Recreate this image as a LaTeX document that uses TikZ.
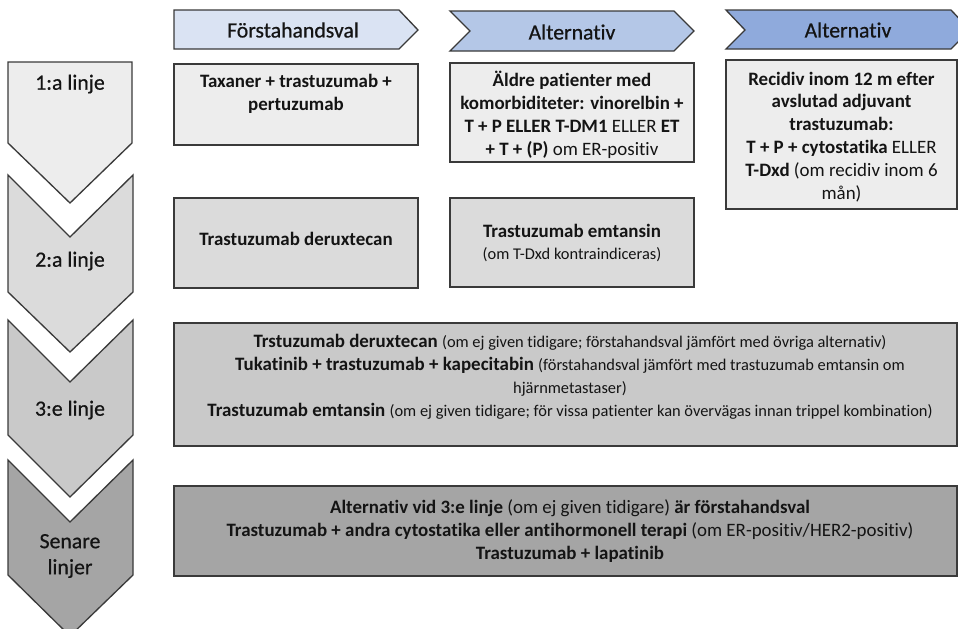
\documentclass[tikz,border=0pt]{standalone}
\usepackage{fontspec}
\setmainfont{Carlito}[RawFeature={-liga}]
\definecolor{bordercol}{HTML}{3A3A3A}
\definecolor{textcol}{HTML}{141414}
\definecolor{hdA}{HTML}{DAE3F3}
\definecolor{hdB}{HTML}{B4C7E7}
\definecolor{hdC}{HTML}{8FAADC}
\definecolor{gA}{HTML}{EDEDED}
\definecolor{gB}{HTML}{DBDBDB}
\definecolor{gC}{HTML}{C9C9C9}
\definecolor{gD}{HTML}{A5A5A5}
\newcommand\rgt[1]{{\mdseries #1}}
\newcommand\smt[1]{{\fontsize{12.3}{17.2}\selectfont\mdseries #1}}
\tikzset{
  bd/.style={draw=bordercol, line width=1pt, line join=miter},
  txt/.style={align=center, text=textcol, inner sep=0pt,
    font=\fontsize{14.2}{17.2}\selectfont\bfseries},
  hdr/.style={text=textcol, inner sep=0pt, font=\fontsize{16.3}{19.5}\selectfont\addfontfeature{FakeBold=0.6}},
  lbl/.style={align=center, text=textcol, inner sep=0pt, font=\fontsize{16.3}{19.5}\selectfont\addfontfeature{FakeBold=0.6}}
}
\begin{document}
\begin{tikzpicture}[x=0.75pt,y=-0.75pt]
\useasboundingbox (0,0) rectangle (958,629);
\clip (0,0) rectangle (958,629);
% headers
\draw[bd, fill=hdA] (174,10) -- (399,10) -- (418,30) -- (399,49) -- (174,49) -- cycle;
\node[hdr] (h1) at (293,30) {Förstahandsval};
\draw[bd, fill=hdB] (450,11) -- (674,11) -- (694,31) -- (674,51) -- (450,51) -- (470,31) -- cycle;
\node[hdr] (h2) at (572,32) {Alternativ};
\draw[bd, fill=hdC] (726,10) -- (951,10) -- (970,30) -- (951,49) -- (726,49) -- (745,30) -- cycle;
\node[hdr] (h3) at (848,30) {Alternativ};
% chevrons
\draw[bd, fill=gA] (8,62) -- (132,62) -- (132,143) -- (70,203) -- (8,143) -- cycle;
\node[lbl] (l1) at (70,84) {1:a linje};
\draw[bd, fill=gB] (8,175) -- (70,237) -- (133,175) -- (133,292) -- (70,352) -- (8,292) -- cycle;
\node[lbl] (l2) at (70,261) {2:a linje};
\draw[bd, fill=gC] (8,320) -- (70,382) -- (133,320) -- (133,435) -- (70,497) -- (8,435) -- cycle;
\node[lbl] (l3) at (70,410) {3:e linje};
\draw[bd, fill=gD] (8,460) -- (70,522) -- (133,460) -- (133,575) -- (70,636) -- (8,575) -- cycle;
\node[lbl] (l4) at (70,556) {Senare\\linjer};
% boxes
\draw[bd, fill=gA] (174,64) rectangle (418,145);
\node[txt] (bA) at (296,93.5) {Taxaner + trastuzumab +\\pertuzumab};
\draw[bd, fill=gA] (450,63) rectangle (694,162);
\node[txt] (bB) at (572,115) {Äldre patienter med\\komorbiditeter: vinorelbin +\\T + P ELLER T-DM1 \rgt{ELLER} ET\\+ T + (P) \rgt{om ER-positiv}};
\draw[bd, fill=gA] (726,60) rectangle (957,209);
\node[txt] (bC) at (841.5,137) {Recidiv inom 12 m efter\\avslutad adjuvant\\trastuzumab:\\T + P + cytostatika \rgt{ELLER}\\T-Dxd \rgt{(om recidiv inom 6}\\\rgt{mån)}};
\draw[bd, fill=gB] (174,198) rectangle (418,288);
\node[txt] (bD) at (296,239) {Trastuzumab deruxtecan};
\draw[bd, fill=gB] (450,198) rectangle (694,287);
\node[txt] (bE) at (572,243) {Trastuzumab emtansin\\\smt{(om T-Dxd kontraindiceras)}};
\draw[bd, fill=gC] (174,323) rectangle (957,446);
\node[txt] (bF) at (570,377) {Trstuzumab deruxtecan \smt{(om ej given tidigare; förstahandsval jämfört med övriga alternativ)}\\Tukatinib + trastuzumab + kapecitabin \smt{(förstahandsval jämfört med trastuzumab emtansin om}\\\smt{hjärnmetastaser)}\\Trastuzumab emtansin \smt{(om ej given tidigare; för vissa patienter kan övervägas innan trippel kombination)}};
\draw[bd, fill=gD] (174,486) rectangle (957,576);
\node[txt] (bG) at (570,531) {Alternativ vid 3:e linje \rgt{(om ej given tidigare)} är förstahandsval\\Trastuzumab + andra cytostatika eller antihormonell terapi \rgt{(om ER-positiv/HER2-positiv)}\\Trastuzumab + lapatinib};
\end{tikzpicture}
\end{document}
